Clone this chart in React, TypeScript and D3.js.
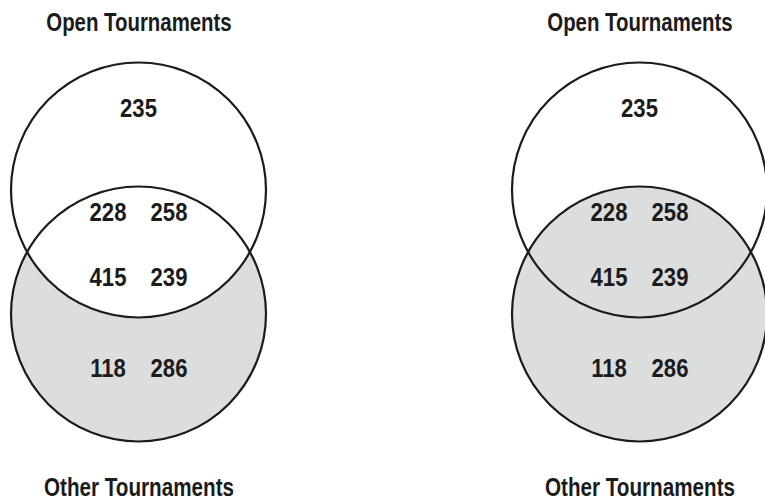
import React from "react";
import * as d3 from "d3";

// ---- data ----
const panels = ["onlyOther", "allOther"];
const setNames = ["Open Tournaments", "Other Tournaments"];
const openOnlyValues = [235];
const overlapTopValues = [228, 258];
const overlapBottomValues = [415, 239];
const otherOnlyValues = [118, 286];

const W = 765;
const H = 501;
const R = 127.5;
const FONT = "'Liberation Sans', Arial, sans-serif";
const GRAY = "#dcdddd";
const INK = "#1b1b1b";

const xPanel = d3.scalePoint<string>().domain(panels).range([138.5, 639.5]);
// vertical layout in venn units: open circle centre at 0, other circle centre at 1
const yU = d3.scaleLinear().domain([0, 1]).range([190, 314]);

const rows = [
  { vals: openOnlyValues, u: -0.589 },
  { vals: overlapTopValues, u: 0.248 },
  { vals: overlapBottomValues, u: 0.778 },
  { vals: otherOnlyValues, u: 1.506 },
];
const colOffset = d3.scalePoint<number>().domain([0, 1]).range([-30.5, 30.5]);

function CText({ x, y, size, sx, children }: { x: number; y: number; size: number; sx: number; children: React.ReactNode }) {
  return (
    <text
      transform={`translate(${x},${y}) scale(${sx},1)`}
      textAnchor="middle"
      fontFamily={FONT}
      fontWeight="bold"
      fontSize={size}
      fill={INK}
    >
      {children}
    </text>
  );
}

function Panel({ id }: { id: string }) {
  const cx = xPanel(id) as number;
  const cyA = yU(0);
  const cyB = yU(1);
  const fullOther = id === "allOther";
  return (
    <g>
      {fullOther ? (
        <>
          <circle cx={cx} cy={cyA} r={R} fill="#fff" />
          <circle cx={cx} cy={cyB} r={R} fill={GRAY} />
        </>
      ) : (
        <>
          <circle cx={cx} cy={cyB} r={R} fill={GRAY} />
          <circle cx={cx} cy={cyA} r={R} fill="#fff" />
        </>
      )}
      <circle cx={cx} cy={cyA} r={R} fill="none" stroke={INK} strokeWidth={2.2} />
      <circle cx={cx} cy={cyB} r={R} fill="none" stroke={INK} strokeWidth={2.2} />
      {rows.map((row, ri) =>
        row.vals.length === 1 ? (
          <CText key={ri} x={cx} y={yU(row.u)} size={26} sx={0.85}>{row.vals[0]}</CText>
        ) : (
          row.vals.map((v, i) => (
            <CText key={ri + "-" + i} x={cx + (colOffset(i) as number)} y={yU(row.u)} size={26} sx={0.85}>
              {v}
            </CText>
          ))
        )
      )}
      <CText x={cx + 0.5} y={30.5} size={25.5} sx={0.8}>{setNames[0]}</CText>
      <CText x={cx + 0.5} y={496} size={25.5} sx={0.81}>{setNames[1]}</CText>
    </g>
  );
}

export default function App() {
  return (
    <svg
      width={W}
      height={H}
      viewBox={`0 0 ${W} ${H}`}
      style={{ position: "absolute", left: 0, top: 0, background: "#fff" }}
    >
      {panels.map((p) => (
        <Panel key={p} id={p} />
      ))}
    </svg>
  );
}
